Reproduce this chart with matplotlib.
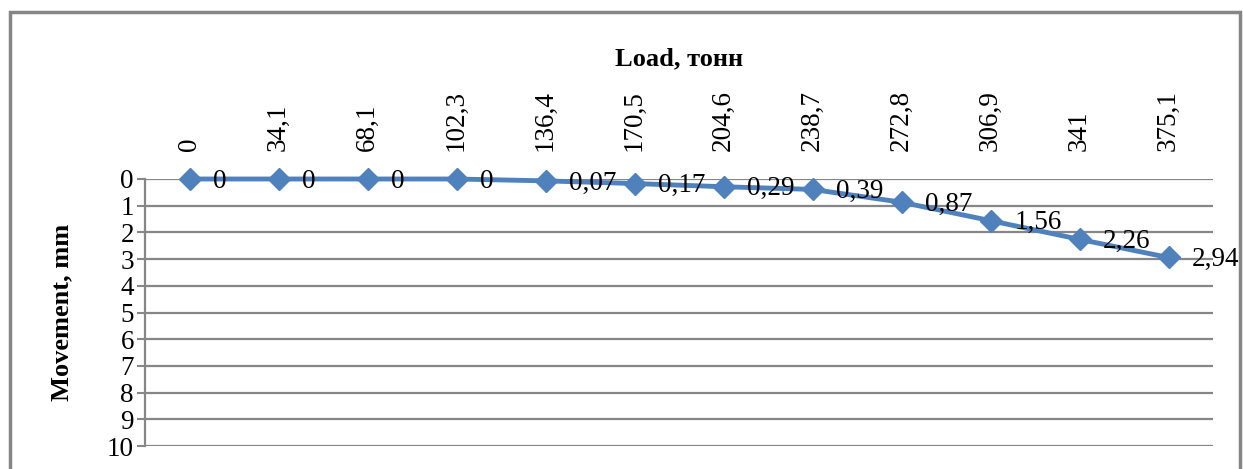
import matplotlib.pyplot as plt
from matplotlib.patches import Rectangle

# данные
load_labels = ["0", "34,1", "68,1", "102,3", "136,4", "170,5", "204,6",
               "238,7", "272,8", "306,9", "341", "375,1"]
movement = [0, 0, 0, 0, 0.07, 0.17, 0.29, 0.39, 0.87, 1.56, 2.26, 2.94]
movement_labels = ["0", "0", "0", "0", "0,07", "0,17", "0,29", "0,39",
                   "0,87", "1,56", "2,26", "2,94"]
y_ticks = list(range(0, 11))

plt.rcParams['font.family'] = ['Liberation Serif', 'DejaVu Serif']

blue = "#4F81BD"
grey = "#868686"

fig = plt.figure(figsize=(12.43, 4.69), dpi=100)
ax = fig.add_axes([145 / 1243, 23 / 469, 1068 / 1243, 267 / 469])

# рамка вокруг диаграммы
fig.patches.append(Rectangle((10 / 1243, -0.05), 1230 / 1243, 1.05 - 12 / 469,
                             transform=fig.transFigure, fill=False,
                             edgecolor=grey, lw=2.5))

x = list(range(len(load_labels)))
ax.plot(x, movement, color=blue, lw=3.5, marker="D", markersize=11.5,
        zorder=3, clip_on=False)

# подписи значений справа от точек
for xi, yi, lab in zip(x, movement, movement_labels):
    ax.annotate(lab, (xi, yi), xytext=(17, -1.5), textcoords="offset points",
                ha="left", va="center", fontsize=19.5, zorder=4)

ax.set_xlim(-0.5, len(load_labels) - 0.5)
ax.set_ylim(10, 0)
ax.set_yticks(y_ticks)
ax.set_yticklabels([str(v) for v in y_ticks], fontsize=19.5)
ax.xaxis.tick_top()
ax.set_xticks(x)
ax.set_xticklabels(load_labels, rotation=90, fontsize=19.5)
ax.tick_params(axis="x", length=0, pad=20)
ax.tick_params(axis="y", length=6, width=1.5, color=grey, pad=2)

ax.yaxis.grid(True, color=grey, lw=1.6)
ax.set_axisbelow(True)
for s in ["top", "right", "bottom"]:
    ax.spines[s].set_visible(False)
ax.spines["left"].set_color(grey)
ax.spines["left"].set_linewidth(1.6)

ax.set_xlabel("Load, тонн", fontsize=19, fontweight="bold", labelpad=18)
ax.xaxis.set_label_position("top")
ax.set_ylabel("Movement, mm", fontsize=19, fontweight="bold", labelpad=24)

fig.savefig("out.png", dpi=100)
